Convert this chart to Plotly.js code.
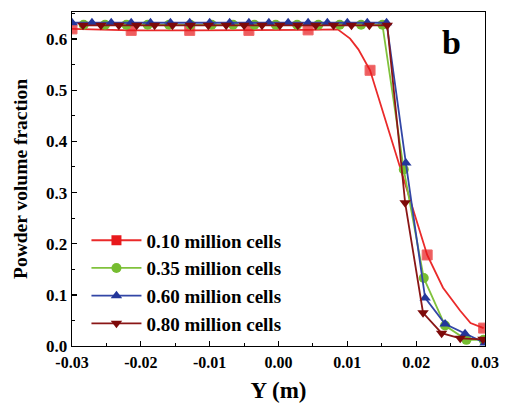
<!DOCTYPE html>
<html>
<head>
<meta charset="utf-8">
<script src="https://cdn.plot.ly/plotly-3.0.1.min.js"></script>
<style>html,body{margin:0;padding:0;background:#fff;}#chart{width:507px;height:407px;}</style>
</head>
<body>
<div id="chart"></div>
<script>
// 0.10 million cells (line points; markers only where redMarker = 1)
var redX = [-0.0300, -0.0214, -0.0129, -0.0043, 0.0043, 0.0086, 0.0104, 0.0116, 0.0133, 0.0216, 0.0239, 0.0264, 0.0279, 0.0298];
var redY = [0.620, 0.617, 0.617, 0.617, 0.618, 0.619, 0.601, 0.580, 0.539, 0.178, 0.114, 0.069, 0.045, 0.035];
var redMarker = [1, 1, 1, 1, 1, 0, 0, 0, 1, 1, 0, 0, 0, 1];

// 0.35 million cells
var greenX = [-0.0283, -0.0252, -0.0221, -0.0190, -0.0159, -0.0128, -0.0097, -0.0066, -0.0035, -0.0004, 0.0027, 0.0058, 0.0089, 0.0120, 0.0151, 0.0182, 0.0211, 0.0242, 0.0273, 0.0298];
var greenY = [0.628, 0.628, 0.628, 0.628, 0.628, 0.628, 0.628, 0.628, 0.628, 0.628, 0.628, 0.628, 0.628, 0.628, 0.628, 0.345, 0.133, 0.040, 0.012, 0.012];

// 0.60 million cells
var blueX = [-0.0300, -0.0271, -0.0243, -0.0214, -0.0186, -0.0157, -0.0129, -0.0100, -0.0071, -0.0043, -0.0014, 0.0014, 0.0043, 0.0071, 0.0100, 0.0129, 0.0157, 0.0185, 0.0213, 0.0242, 0.0271, 0.0300];
var blueY = [0.632, 0.632, 0.632, 0.632, 0.632, 0.632, 0.632, 0.632, 0.632, 0.632, 0.632, 0.632, 0.632, 0.632, 0.632, 0.632, 0.632, 0.358, 0.094, 0.043, 0.024, 0.006];

// 0.80 million cells
var darkX = [-0.0284, -0.0258, -0.0232, -0.0206, -0.0180, -0.0154, -0.0128, -0.0102, -0.0076, -0.0050, -0.0024, 0.0002, 0.0028, 0.0054, 0.0080, 0.0106, 0.0132, 0.0158, 0.0184, 0.0210, 0.0237, 0.0264, 0.0297];
var darkY = [0.627, 0.627, 0.627, 0.627, 0.627, 0.627, 0.627, 0.627, 0.627, 0.627, 0.627, 0.627, 0.627, 0.627, 0.627, 0.627, 0.627, 0.627, 0.280, 0.065, 0.025, 0.015, 0.013];

var seriesNames = ['0.10 million cells', '0.35 million cells', '0.60 million cells', '0.80 million cells'];
var xTicks = [-0.03, -0.02, -0.01, 0.00, 0.01, 0.02, 0.03];
var xTickText = ['-0.03', '-0.02', '-0.01', '0.00', '0.01', '0.02', '0.03'];
var yTicks = [0.0, 0.1, 0.2, 0.3, 0.4, 0.5, 0.6];
var yTickText = ['0.0', '0.1', '0.2', '0.3', '0.4', '0.5', '0.6'];

var FONT = 'Liberation Serif, Times New Roman, serif';
var colors = {
  red:   {m: '#e8191c', l: '#ea2a2a'},
  green: {m: '#76bd30', l: '#80c23c'},
  blue:  {m: '#23369a', l: '#3246a6'},
  dark:  {m: '#7e0a0a', l: '#8a1616'}
};
var MS = 10;

function dataTrace(x, y, c, sym, sizes) {
  return {
    x: x, y: y, type: 'scatter', mode: 'lines+markers', showlegend: false,
    line: {color: c.l, width: 1.8},
    marker: {color: c.m, symbol: sym, size: sizes || MS}
  };
}
function legendTrace(name, c, sym) {
  return {
    x: [null], y: [null], type: 'scatter', mode: 'lines+markers', name: name,
    line: {color: c.l, width: 1.8},
    marker: {color: c.m, symbol: sym, size: MS}
  };
}

var redSizes = redMarker.map(function (v) { return v ? MS : 0; });

var traces = [
  dataTrace(redX, redY, colors.red, 'square', redSizes),
  dataTrace(greenX, greenY, colors.green, 'circle'),
  dataTrace(blueX, blueY, colors.blue, 'triangle-up'),
  dataTrace(darkX, darkY, colors.dark, 'triangle-down'),
  legendTrace(seriesNames[0], colors.red, 'square'),
  legendTrace(seriesNames[1], colors.green, 'circle'),
  legendTrace(seriesNames[2], colors.blue, 'triangle-up'),
  legendTrace(seriesNames[3], colors.dark, 'triangle-down')
];

var axisCommon = {
  showgrid: false, zeroline: false, showline: true, linecolor: '#000', linewidth: 1.3,
  mirror: true, ticks: 'inside', ticklen: 5, tickwidth: 1.3, tickcolor: '#000'
};

var layout = {
  width: 507, height: 407,
  margin: {l: 72, r: 22, t: 12, b: 61},
  paper_bgcolor: '#fff', plot_bgcolor: '#fff',
  font: {family: FONT, color: '#000'},
  xaxis: Object.assign({}, axisCommon, {
    range: [-0.03, 0.03], tickvals: xTicks, ticktext: xTickText,
    tickfont: {family: FONT, size: 16, color: '#000', weight: 'bold'},
    ticklabelstandoff: 1,
    minor: {dtick: 0.005, tick0: 0, ticks: 'inside', ticklen: 3, tickcolor: '#000', tickwidth: 1},
    title: {text: 'Y (m)', font: {family: FONT, size: 23, weight: 'bold'}, standoff: 12}
  }),
  yaxis: Object.assign({}, axisCommon, {
    range: [0, 0.653], tickvals: yTicks, ticktext: yTickText,
    tickfont: {family: FONT, size: 17, color: '#000', weight: 'bold'},
    minor: {dtick: 0.05, tick0: 0, ticks: 'inside', ticklen: 3, tickcolor: '#000', tickwidth: 1},
    title: {text: 'Powder volume fraction', font: {family: FONT, size: 19.5, weight: 'bold'}, standoff: 13}
  }),
  legend: {
    x: 0.035, y: 0.373, xanchor: 'left', yanchor: 'top',
    bgcolor: 'rgba(0,0,0,0)', borderwidth: 0,
    font: {family: FONT, size: 19, color: '#000', weight: 'bold'},
    tracegroupgap: 0, itemwidth: 50
  },
  annotations: [{
    text: 'b', xref: 'paper', yref: 'paper', x: 0.92, y: 0.91, xanchor: 'center', yanchor: 'middle',
    showarrow: false, font: {family: FONT, size: 34, color: '#000', weight: 'bold'}
  }]
};

Plotly.newPlot('chart', traces, layout, {displayModeBar: false, staticPlot: true});
</script>
</body>
</html>
